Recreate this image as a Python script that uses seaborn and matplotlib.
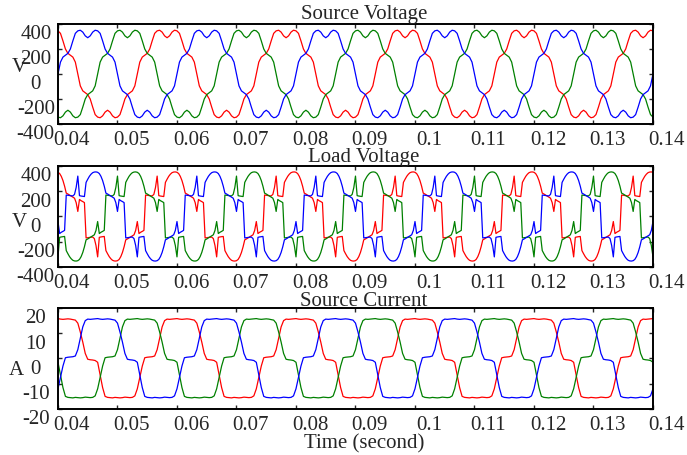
import matplotlib
matplotlib.use('Agg')
import matplotlib.pyplot as plt
import matplotlib.transforms as mtransforms
import seaborn as sns
import numpy as np
import pandas as pd

# one period of phase a starting at t = 0.04 s
# source voltage: 48 samples per period
source_voltage_a = [345, 325, 265, 200, 165, 150, 135, 95, 0, -95, -135, -150,
                    -165, -200, -265, -325, -345, -350, -335, -305, -290, -305, -335, -350,
                    -345, -325, -265, -200, -165, -150, -135, -95, 0, 95, 135, 150,
                    165, 200, 265, 325, 345, 350, 335, 305, 290, 305, 335, 350]
# load voltage: 72 samples per period
load_voltage_a = [350, 340, 318, 285, 240, 185, 178, 170, 162, 155, 145, 110,
                  40, 135, 125, 118, 110, -170, -168, -166, -164, -163, -175, -230,
                  -320, -165, -162, -160, -158, -270, -295, -318, -335, -347, -352, -353,
                  -350, -340, -318, -285, -240, -185, -178, -170, -162, -155, -145, -110,
                  -40, -135, -125, -118, -110, 170, 168, 166, 164, 163, 175, 230,
                  320, 165, 162, 160, 158, 270, 295, 318, 335, 347, 352, 353]
# source current: 48 samples per period
source_current_a = [15.8, 15.6, 15.5, 15.6, 15.7, 15.6, 15.4, 15.2, 14.0, 10.5, 6.5, 2.0,
                    -0.3, -0.5, -0.6, -0.8, -1.5, -6.5, -11.5, -15.0, -15.4, -15.5, -15.6, -15.4,
                    -15.5, -15.6, -15.5, -15.3, -15.4, -15.5, -15.4, -14.8, -12.0, -7.5, -3.0, 0.3,
                    0.5, 0.6, 0.7, 1.0, 3.5, 8.0, 12.5, 15.0, 15.6, 15.5, 15.6, 15.7]

t_start, t_end, period = 0.04, 0.14, 0.02
x_ticks = [0.04, 0.05, 0.06, 0.07, 0.08, 0.09, 0.1, 0.11, 0.12, 0.13, 0.14]
phase_colors = {'a': '#ff0000', 'c': '#008000', 'b': '#0000ff'}

panels = [
    # title, ylabel, wave, yticks, axes rect, ylabel pos, title y
    ('Source Voltage', 'V', source_voltage_a, [-400, -200, 0, 200, 400],
     [0.0844, 0.7275, 0.8661, 0.2198], (-0.0655, 0.56), 1.047),
    ('Load Voltage', 'V', load_voltage_a, [-400, -200, 0, 200, 400],
     [0.0844, 0.4132, 0.8661, 0.2220], (-0.0655, 0.436), 1.037),
    ('Source Current', 'A', source_current_a, [-20, -10, 0, 10, 20],
     [0.0844, 0.1011, 0.8661, 0.2220], (-0.0706, 0.386), 1.02),
]

sns.set_style('ticks')
plt.rcParams['font.family'] = ['Liberation Serif', 'DejaVu Serif']
plt.rcParams['font.size'] = 15
plt.rcParams['axes.unicode_minus'] = False

fig = plt.figure(figsize=(6.87, 4.55), dpi=100)

x_shift = mtransforms.ScaledTranslation(0.14, 0.0, fig.dpi_scale_trans)
y_shift = mtransforms.ScaledTranslation(0.0, -0.085, fig.dpi_scale_trans)

for title, ylab, wave, yticks, rect, ylab_pos, title_y in panels:
    ax = fig.add_axes(rect)
    wave = np.asarray(wave, dtype=float)
    n_per = len(wave)
    n_samples = int(round((t_end - t_start) / period * n_per)) + 1
    t = t_start + np.arange(n_samples) * period / n_per
    # phase b lags a by 120 deg, phase c by 240 deg
    phases = {'a': wave, 'b': np.roll(wave, n_per // 3), 'c': np.roll(wave, 2 * n_per // 3)}
    df = pd.concat([pd.DataFrame({'t': t, 'value': np.resize(v, n_samples), 'phase': k})
                    for k, v in phases.items()])
    sns.lineplot(data=df, x='t', y='value', hue='phase', hue_order=['a', 'c', 'b'],
                 palette=phase_colors, estimator=None, sort=False, linewidth=0.9,
                 legend=False, ax=ax)

    ax.set_xlim(t_start, t_end)
    ax.set_ylim(yticks[0], yticks[-1])
    ax.set_xticks(x_ticks)
    ax.set_xticklabels([f'{v:g}' for v in x_ticks])
    ax.set_yticks(yticks)
    ax.set_yticklabels([str(v) for v in yticks])
    ax.tick_params(direction='in', top=True, right=True, length=3, width=1,
                   labelsize=15)
    ax.tick_params(axis='x', pad=5)
    ax.tick_params(axis='y', pad=16)
    for lbl in ax.get_yticklabels():
        lbl.set_horizontalalignment('center')
        lbl.set_transform(lbl.get_transform() + y_shift)
    for lbl in ax.get_xticklabels():
        lbl.set_transform(lbl.get_transform() + x_shift)
    for sp in ax.spines.values():
        sp.set_linewidth(1.4)
        sp.set_color('black')

    ax.set_xlabel('')
    ax.set_ylabel(ylab, rotation=0, fontsize=15, ha='center', va='center')
    ax.yaxis.set_label_coords(*ylab_pos)
    ax.text(0.514, title_y, title, transform=ax.transAxes, ha='center',
            va='baseline', fontsize=15)

ax.set_xlabel('Time (second)', fontsize=15)
ax.xaxis.set_label_coords(0.515, -0.25)

fig.savefig('out.png', dpi=100)
